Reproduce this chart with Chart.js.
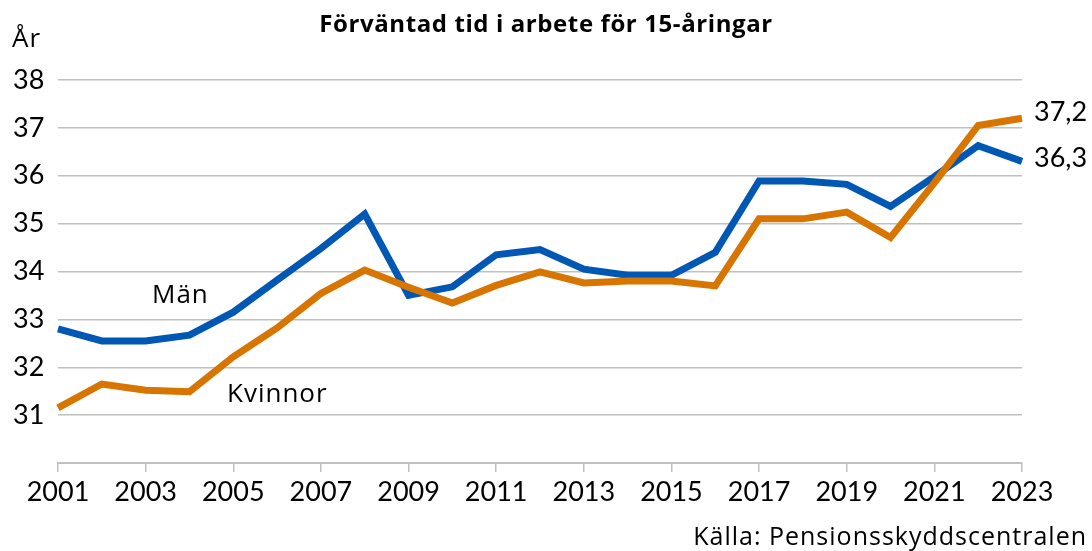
<!DOCTYPE html>
<html>
<head>
<meta charset="utf-8">
<script src="https://cdn.jsdelivr.net/npm/chart.js@4/dist/chart.umd.min.js"></script>
<style>
  html, body { margin: 0; padding: 0; background: #fff; }
  #wrap { width: 1092px; height: 551px; position: relative; }
</style>
</head>
<body>
<div id="wrap"><canvas id="myChart"></canvas></div>
<script>
var years = ['2001','2002','2003','2004','2005','2006','2007','2008','2009','2010','2011','2012',
             '2013','2014','2015','2016','2017','2018','2019','2020','2021','2022','2023'];
var man = [32.8, 32.55, 32.55, 32.67, 33.15, 33.82, 34.48, 35.2, 33.5, 33.68, 34.35, 34.46,
           34.05, 33.92, 33.92, 34.4, 35.89, 35.89, 35.82, 35.36, 35.98, 36.63, 36.3];
var kvinnor = [31.15, 31.65, 31.52, 31.49, 32.22, 32.82, 33.54, 34.03, 33.67, 33.34, 33.71, 33.99,
               33.76, 33.8, 33.8, 33.7, 35.1, 35.1, 35.24, 34.71, 35.85, 37.05, 37.2];
var yTicks = [31, 32, 33, 34, 35, 36, 37, 38];

var FONT = 'Lato, "Open Sans", sans-serif';
var TFONT = '"Open Sans", Lato, sans-serif';
var BLUE = '#0058b4';
var ORANGE = '#d87500';
var GRID = '#c0c0c0';

// texts around the plot
var textPlugin = {
  id: 'texts',
  afterDraw: function (chart) {
    var ctx = chart.ctx;
    ctx.save();
    ctx.fillStyle = '#000';

    ctx.font = 'bold 24px ' + TFONT;
    ctx.letterSpacing = '0.6px';
    ctx.textAlign = 'center';
    ctx.textBaseline = 'middle';
    ctx.fillText('Förväntad tid i arbete för 15-åringar', 546, 25);

    ctx.font = '26px ' + TFONT;
    ctx.letterSpacing = '1px';
    ctx.textAlign = 'left';
    ctx.textBaseline = 'alphabetic';
    ctx.fillText('År', 12, 47);
    ctx.fillText('Män', 152, 303);
    ctx.fillText('Kvinnor', 227, 402);

    ctx.font = '25px ' + TFONT;
    ctx.textAlign = 'right';
    ctx.fillText('Källa: Pensionsskyddscentralen', 1087, 545);

    // end labels from last values
    ctx.font = '27px ' + FONT;
    ctx.letterSpacing = '0px';
    ctx.textAlign = 'left';
    ctx.textBaseline = 'middle';
    [[0, -6], [1, -3]].forEach(function (d) {
      var meta = chart.getDatasetMeta(d[0]);
      var pt = meta.data[meta.data.length - 1];
      var ds = chart.data.datasets[d[0]].data;
      var v = ds[ds.length - 1].toFixed(1).replace('.', ',');
      ctx.fillText(v, pt.x + 12, pt.y + d[1]);
    });
    ctx.restore();
  }
};

new Chart(document.getElementById('myChart'), {
  type: 'line',
  data: {
    labels: years,
    datasets: [{
      label: 'Kvinnor',
      data: kvinnor,
      borderColor: ORANGE,
      borderWidth: 7,
      pointRadius: 0,
      tension: 0,
      fill: false
    }, {
      label: 'Män',
      data: man,
      borderColor: BLUE,
      borderWidth: 7,
      pointRadius: 0,
      tension: 0,
      fill: false
    }]
  },
  options: {
    responsive: true,
    maintainAspectRatio: false,
    animation: false,
    devicePixelRatio: 1,
    layout: { padding: { left: 13, right: 70, top: 80, bottom: 0 } },
    plugins: {
      legend: { display: false },
      tooltip: { enabled: false },
      title: { display: false }
    },
    scales: {
      x: {
        offset: false,
        afterFit: function (scale) { scale.height = 88; },
        border: { display: true, color: GRID, width: 2 },
        grid: {
          drawOnChartArea: false,
          drawTicks: true,
          tickLength: 9,
          lineWidth: 1.5,
          color: function (c) { return c.index % 2 === 0 ? GRID : 'rgba(0,0,0,0)'; }
        },
        ticks: {
          autoSkip: false,
          maxRotation: 0,
          padding: 4,
          color: '#000',
          font: { family: FONT, size: 27 },
          callback: function (val, i) { return i % 2 === 0 ? years[i] : ''; }
        }
      },
      y: {
        min: 30,
        max: 38,
        afterFit: function (scale) { scale.width = 45; },
        afterBuildTicks: function (scale) {
          scale.ticks = [30].concat(yTicks).map(function (v) { return { value: v }; });
        },
        border: { display: false },
        grid: {
          drawTicks: false,
          lineWidth: 1.5,
          color: function (c) { return c.tick && c.tick.value === 30 ? 'rgba(0,0,0,0)' : GRID; }
        },
        ticks: {
          crossAlign: 'far',
          padding: 0,
          color: '#000',
          font: { family: FONT, size: 27 },
          callback: function (v) { return yTicks.indexOf(v) >= 0 ? String(v) : ''; }
        }
      }
    }
  },
  plugins: [textPlugin]
});
</script>
</body>
</html>
